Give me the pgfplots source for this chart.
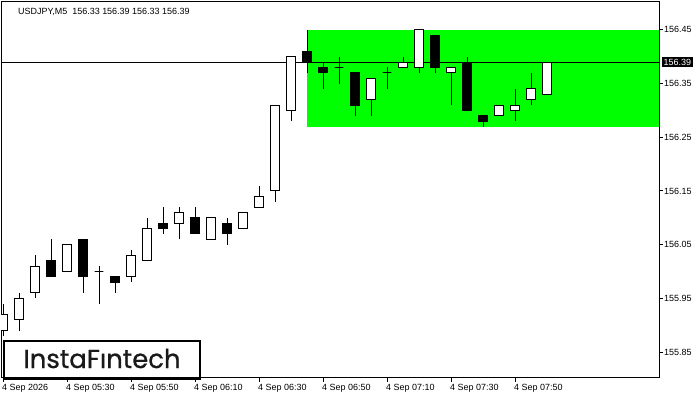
\documentclass[border=0pt]{standalone}
\usepackage{pgfplots}
\pgfplotsset{compat=1.18}
\usepackage{fontspec}
\setmainfont{Liberation Sans}
\newfontfamily\logofont{Poppins}[FakeBold=0.8]
\definecolor{mtgreen}{RGB}{0,255,0}
\newcommand\tickfont{\fontsize{9}{10}\selectfont}
% k, Open, High, Low, Close, fill
\newcommand\candle[6]{%
  \pgfmathsetmacro\xl{#1-0.28}%
  \pgfmathsetmacro\xr{#1+0.28}%
  \addplot[black, line width=1bp, forget plot] coordinates {(#1,#4) (#1,#3)};
  \addplot[draw=black, fill=#6, line width=1bp, forget plot] coordinates {(\xl,#2) (\xr,#2) (\xr,#5) (\xl,#5)} -- cycle;
}
\begin{document}
\begin{tikzpicture}
\path[use as bounding box] (0,0) rectangle (700bp,400bp);
\begin{axis}[
  at={(1bp,22bp)}, anchor=south west, scale only axis,
  width=658bp, height=376bp,
  xmin=-0.125, xmax=41, ymin=155.8016, ymax=156.502,
  axis line style={line width=1bp},
  xtick={0,4,8,12,16,20,24,28,32},
  xticklabels={4 Sep 2026,4 Sep 05:30,4 Sep 05:50,4 Sep 06:10,4 Sep 06:30,4 Sep 06:50,4 Sep 07:10,4 Sep 07:30,4 Sep 07:50},
  ytick={155.85,155.95,156.05,156.15,156.25,156.35,156.45},
  yticklabels={155.85,155.95,156.05,156.15,156.25,156.35,156.45},
  xtick pos=bottom, ytick pos=right, yticklabel pos=right,
  tick align=outside, major tick length=4bp,
  tick style={black, line width=1bp},
  xticklabel style={anchor=north west, inner sep=0pt, xshift=-1bp, yshift=-2bp, font=\tickfont},
  yticklabel style={anchor=west, inner sep=0pt, xshift=1bp, font=\tickfont},
]
\addplot[fill=mtgreen, draw=none, forget plot] coordinates {(19,156.27) (45,156.27) (45,156.45) (19,156.45)} -- cycle;
\addplot[black, line width=1bp, forget plot] coordinates {(-2,156.39) (45,156.39)};
\candle{0}{155.89}{155.94}{155.88}{155.92}{white}
\candle{1}{155.91}{155.96}{155.89}{155.95}{white}
\candle{2}{155.96}{156.03}{155.95}{156.01}{white}
\candle{3}{156.02}{156.06}{155.99}{155.99}{black}
\candle{4}{156.00}{156.05}{156.00}{156.05}{white}
\candle{5}{156.06}{156.06}{155.96}{155.99}{black}
\candle{6}{156.00}{156.01}{155.94}{156.00}{white}
\candle{7}{155.99}{155.99}{155.96}{155.98}{black}
\candle{8}{155.99}{156.04}{155.98}{156.03}{white}
\candle{9}{156.02}{156.10}{156.02}{156.08}{white}
\candle{10}{156.09}{156.12}{156.07}{156.08}{black}
\candle{11}{156.09}{156.12}{156.06}{156.11}{white}
\candle{12}{156.10}{156.12}{156.07}{156.07}{black}
\candle{13}{156.06}{156.10}{156.06}{156.10}{white}
\candle{14}{156.09}{156.10}{156.05}{156.07}{black}
\candle{15}{156.08}{156.11}{156.08}{156.11}{white}
\candle{16}{156.12}{156.16}{156.12}{156.14}{white}
\candle{17}{156.15}{156.31}{156.13}{156.31}{white}
\candle{18}{156.30}{156.40}{156.28}{156.40}{white}
\candle{19}{156.41}{156.45}{156.37}{156.39}{black}
\candle{20}{156.38}{156.39}{156.34}{156.37}{black}
\candle{21}{156.38}{156.40}{156.35}{156.38}{white}
\candle{22}{156.37}{156.37}{156.29}{156.31}{black}
\candle{23}{156.32}{156.36}{156.29}{156.36}{white}
\candle{24}{156.37}{156.38}{156.34}{156.37}{white}
\candle{25}{156.38}{156.40}{156.38}{156.39}{white}
\candle{26}{156.38}{156.45}{156.37}{156.45}{white}
\candle{27}{156.44}{156.44}{156.37}{156.38}{black}
\candle{28}{156.37}{156.38}{156.31}{156.38}{white}
\candle{29}{156.39}{156.40}{156.30}{156.30}{black}
\candle{30}{156.29}{156.29}{156.27}{156.28}{black}
\candle{31}{156.29}{156.31}{156.29}{156.31}{white}
\candle{32}{156.30}{156.34}{156.28}{156.31}{white}
\candle{33}{156.32}{156.37}{156.31}{156.34}{white}
\candle{34}{156.33}{156.39}{156.33}{156.39}{white}
\end{axis}
\node[anchor=base west, inner sep=0pt, font=\tickfont] at (18bp,385bp) {USDJPY,M5\ \ 156.33 156.39 156.33 156.39};
\node[fill=black, text=white, anchor=west, inner sep=1.5bp, font=\tickfont] at (662bp,338bp) {156.39};
\draw[line width=2.6bp, fill=white] (4bp,59bp) rectangle (200bp,21.5bp);
\node[anchor=base, inner sep=0pt, font=\logofont\fontsize{26}{28}\selectfont, text=black!90] at (102bp,32bp) {InstaFıntech};
\end{tikzpicture}
\end{document}
